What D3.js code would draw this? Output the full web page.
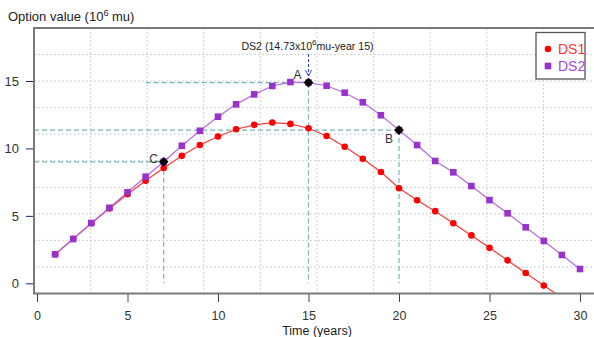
<!DOCTYPE html>
<html><head><meta charset="utf-8">
<script src="https://cdn.jsdelivr.net/npm/d3@7/dist/d3.min.js"></script>
<style>
html,body{margin:0;padding:0;background:#fff;}
svg{display:block;font-family:"Liberation Sans",Arial,sans-serif;}
</style></head>
<body>
<svg id="chart" width="594" height="337"></svg>
<script>
// ---- data ----
const years = d3.range(1, 31);
const ds1Years = d3.range(1, 30);
const ds1 = [2.15, 3.3, 4.45, 5.55, 6.6, 7.6, 8.55, 9.45, 10.25, 10.88, 11.42, 11.75, 11.92, 11.82, 11.5,
             10.92, 10.13, 9.24, 8.25, 7.05, 6.16, 5.35, 4.45, 3.55, 2.63, 1.7, 0.76, -0.16, -1.08];
const ds2 = [2.15, 3.28, 4.47, 5.6, 6.75, 7.9, 9.01, 10.2, 11.31, 12.35, 13.27, 14.01, 14.63, 14.92, 14.88,
             14.65, 14.13, 13.42, 12.46, 11.36, 10.25, 9.07, 8.23, 7.21, 6.17, 5.19, 4.15, 3.14, 2.1, 1.06];
const xTicks = [0, 5, 10, 15, 20, 25, 30];
const yTicks = [0, 5, 10, 15];
// highlighted points: label, year, value, horizontal line start year (null = axis)
const marks = [
  {label: "A", year: 15, value: 14.88, hStart: 6},
  {label: "B", year: 20, value: 11.36, hStart: null},
  {label: "C", year: 7, value: 9.01, hStart: null}
];
const seriesNames = ["DS1", "DS2"];

// ---- layout ----
const svg = d3.select("#chart");
const box = {left: 34, right: 600, top: 28, bottom: 293.5};
const x = d3.scaleLinear().domain([0, 30]).range([37, 580]);
const y = d3.scaleLinear().domain([0, 15]).range([283.3, 81]);

const c1 = "#ff0000", c1line = "#ff3a3a";
const c2 = "#9932cc", c2line = "#b36ae0";
const dashCol = "#79b4b6";

// grid: 10 equal divisions of the box
const gx = d3.range(1, 10).map(k => box.left + k * (box.right - box.left) / 10);
const gy = d3.range(1, 10).map(k => box.top + k * (box.bottom - box.top) / 10);
const grid = svg.append("g").attr("stroke", "#d0d0d0").attr("stroke-width", 1).attr("stroke-dasharray", "2,2");
grid.selectAll(".gv").data(gx).enter().append("line")
  .attr("x1", d => d).attr("x2", d => d).attr("y1", box.top).attr("y2", box.bottom);
grid.selectAll(".gh").data(gy).enter().append("line")
  .attr("x1", box.left).attr("x2", box.right).attr("y1", d => d).attr("y2", d => d);

// clip
svg.append("clipPath").attr("id", "clip").append("rect")
  .attr("x", box.left).attr("y", box.top).attr("width", box.right - box.left).attr("height", box.bottom - box.top);

// dashed reference lines
const ref = svg.append("g").attr("stroke", dashCol).attr("stroke-width", 1.2).attr("stroke-dasharray", "5,3");
marks.forEach(m => {
  ref.append("line").attr("x1", m.hStart === null ? box.left : x(m.hStart)).attr("x2", x(m.year))
    .attr("y1", y(m.value)).attr("y2", y(m.value));
  ref.append("line").attr("x1", x(m.year)).attr("x2", x(m.year))
    .attr("y1", y(m.value)).attr("y2", y(0));
});

// series
const plot = svg.append("g").attr("clip-path", "url(#clip)");
const line = d3.line().x(d => x(d[0])).y(d => y(d[1]));
const d1 = ds1Years.map((t, i) => [t, ds1[i]]);
const d2 = years.map((t, i) => [t, ds2[i]]);
plot.append("path").datum(d1).attr("d", line).attr("fill", "none").attr("stroke", c1line).attr("stroke-width", 1.2);
plot.selectAll(".p1").data(d1).enter().append("circle")
  .attr("cx", d => x(d[0])).attr("cy", d => y(d[1])).attr("r", 3.3).attr("fill", c1);
plot.append("path").datum(d2).attr("d", line).attr("fill", "none").attr("stroke", c2line).attr("stroke-width", 1.2);
plot.selectAll(".p2").data(d2).enter().append("rect")
  .attr("x", d => x(d[0]) - 3.3).attr("y", d => y(d[1]) - 3.3).attr("width", 6.6).attr("height", 6.6).attr("fill", c2);

// highlighted diamonds + labels
marks.forEach(m => {
  svg.append("path").attr("d", d3.symbol(d3.symbolDiamond2, 60)())
    .attr("transform", `translate(${x(m.year)},${y(m.value)})`).attr("fill", "#000");
});
const lblStyle = s => s.attr("font-size", 12).attr("fill", "#333");
lblStyle(svg.append("text").attr("x", x(15) - 11).attr("y", y(14.88) - 4).attr("text-anchor", "middle").text("A"));
lblStyle(svg.append("text").attr("x", x(20) - 10).attr("y", y(11.36) + 13).attr("text-anchor", "middle").text("B"));
lblStyle(svg.append("text").attr("x", x(7) - 10).attr("y", y(9.01) + 1).attr("text-anchor", "middle").text("C"));

// annotation
const ann = svg.append("text").attr("x", x(15) - 1).attr("y", 50).attr("text-anchor", "middle")
  .attr("font-size", 10.6).attr("fill", "#222");
ann.append("tspan").text("DS2 (14.73x10");
ann.append("tspan").attr("font-size", 8).attr("dy", -5).text("6");
ann.append("tspan").attr("dy", 5).text("mu-year 15)");
svg.append("line").attr("x1", x(15)).attr("x2", x(15)).attr("y1", 54).attr("y2", 75)
  .attr("stroke", "#3344cc").attr("stroke-width", 1).attr("stroke-dasharray", "3,2");
svg.append("path").attr("d", `M${x(15) - 3},${70} L${x(15)},${76} L${x(15) + 3},${70}`)
  .attr("fill", "none").attr("stroke", "#3344cc").attr("stroke-width", 1);

// box
svg.append("rect").attr("x", box.left).attr("y", box.top).attr("width", box.right - box.left)
  .attr("height", box.bottom - box.top).attr("fill", "none").attr("stroke", "#7a7a7a").attr("stroke-width", 2);

// axes
const yAxis = d3.axisLeft(y).tickValues(yTicks).tickSize(7).tickPadding(7).tickFormat(d3.format("d"));
const gY = svg.append("g").attr("transform", `translate(${box.left - 1},0)`).call(yAxis);
gY.select(".domain").remove();
gY.selectAll(".tick line").attr("stroke", "#22226e");
gY.selectAll(".tick text").attr("font-size", 13).attr("fill", "#333").attr("font-family", "Liberation Sans, Arial, sans-serif");

const xAxis = d3.axisBottom(x).tickValues(xTicks).tickSize(8).tickPadding(9).tickFormat(d3.format("d"));
const gX = svg.append("g").attr("transform", `translate(0,${box.bottom + 0.5})`).call(xAxis);
gX.select(".domain").remove();
gX.selectAll(".tick line").attr("stroke", "#444");
gX.selectAll(".tick text").attr("font-size", 12.5).attr("fill", "#333").attr("font-family", "Liberation Sans, Arial, sans-serif");

// titles
svg.append("text").attr("x", 317).attr("y", 334.5).attr("text-anchor", "middle").attr("font-size", 12.5)
  .attr("fill", "#222").text("Time (years)");
const yt = svg.append("text").attr("x", 8).attr("y", 21).attr("font-size", 13).attr("fill", "#222");
yt.append("tspan").text("Option value  (10");
yt.append("tspan").attr("font-size", 9).attr("dy", -5).text("6");
yt.append("tspan").attr("dy", 5).text(" mu)");

// legend
const lg = svg.append("g");
lg.append("rect").attr("x", 536).attr("y", 32.5).attr("width", 49).attr("height", 46.5)
  .attr("fill", "#fff").attr("stroke", "#555").attr("stroke-width", 1.3);
lg.append("circle").attr("cx", 548).attr("cy", 49).attr("r", 3.3).attr("fill", c1);
lg.append("rect").attr("x", 548 - 3.3).attr("y", 66 - 3.3).attr("width", 6.6).attr("height", 6.6).attr("fill", c2);
lg.append("text").attr("x", 558).attr("y", 54).attr("font-size", 14).attr("fill", "#ff3333").text(seriesNames[0]);
lg.append("text").attr("x", 558).attr("y", 71).attr("font-size", 14).attr("fill", "#a848d8").text(seriesNames[1]);
</script>
</body></html>
